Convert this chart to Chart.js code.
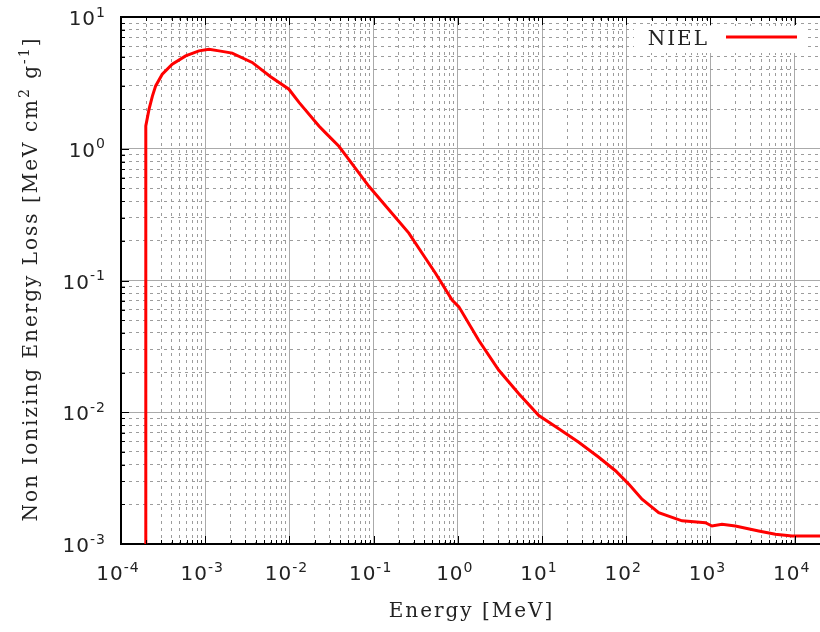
<!DOCTYPE html>
<html>
<head>
<meta charset="utf-8">
<script src="https://cdn.jsdelivr.net/npm/chart.js@4/dist/chart.umd.min.js"></script>
<style>
  html, body { margin: 0; padding: 0; background: #fff; overflow: hidden; }
  #wrap { width: 820px; height: 632px; position: relative; }
</style>
</head>
<body>
<div id="wrap"><canvas id="niel-chart"></canvas></div>
<script>
// NIEL curve: energy in MeV, loss in MeV cm^2 g^-1
const energy = [1.97e-4, 1.97e-4, 2.15e-4, 2.36e-4, 2.58e-4, 3.09e-4, 4.06e-4, 5.86e-4, 8.43e-4, 1.11e-3,
    1.46e-3, 2.09e-3, 3.61e-3, 5.98e-3, 9.86e-3, 1.30e-2, 2.24e-2, 2.69e-2, 3.87e-2, 5.09e-2,
    8.79e-2, 0.152, 0.262, 0.377, 0.543, 0.855, 1.03, 1.77, 3.07, 5.30,
    9.16, 15.8, 27.3, 47.2, 74.5, 107, 154, 243, 460, 871,
    1043, 1371, 1977, 3740, 5900, 9290, 20000];
const niel = [1e-3, 1.49, 1.99, 2.51, 3.0, 3.68, 4.39, 5.07, 5.53, 5.70,
    5.53, 5.32, 4.52, 3.52, 2.83, 2.25, 1.49, 1.32, 1.045, 0.828,
    0.519, 0.344, 0.229, 0.161, 0.1135, 0.0710, 0.0631, 0.0352, 0.0208, 0.01384,
    0.00944, 0.00748, 0.00592, 0.00455, 0.0036, 0.00285, 0.00219, 0.00173, 0.0015, 0.00145,
    0.00137, 0.00141, 0.00137, 0.001256, 0.001186, 0.00115, 0.00115];

// axis decades (exponents) and the minor steps inside each decade
const xExponents = [-4, -3, -2, -1, 0, 1, 2, 3, 4];
const yExponents = [-3, -2, -1, 0, 1];
const minorSteps = [2, 3, 4, 5, 6, 7, 8, 9];
const xRange = [1e-4, 2e4];
const yRange = [1e-3, 1e1];

const seriesLabel = 'NIEL';
const xTitle = 'Energy [MeV]';
const yTitle = ['Non Ionizing Energy Loss [MeV cm', '2', ' g', '-1', ']'];

const textFont = '"DejaVu Serif", serif';
const numFont = '"DejaVu Sans", sans-serif';

function decadeTicks(exps, min, max) {
    const ticks = [];
    exps.forEach(e => {
        const base = Math.pow(10, e);
        ticks.push({ value: base, major: true });
        minorSteps.forEach(s => ticks.push({ value: s * base, major: false }));
    });
    return ticks.filter(t => t.value >= min * 0.999 && t.value <= max * 1.001);
}

function gridColor(ctx) {
    if (!ctx.tick) return '#aaa';
    return ctx.tick.major ? '#aaaaaa' : '#9c9c9c';
}
function gridDash(ctx) {
    if (!ctx.tick) return [];
    return ctx.tick.major ? [] : [3, 4];
}

// text with superscripts, parts alternate normal / raised
function drawParts(c, parts, x, y, size, align) {
    const widths = parts.map((p, i) => {
        c.font = (i % 2 ? size * 0.7 : size) + 'px ' + c.__fam;
        return c.measureText(p).width;
    });
    const total = widths.reduce((a, b) => a + b, 0);
    let cx = align === 'center' ? x - total / 2 : align === 'right' ? x - total : x;
    c.textAlign = 'left';
    c.textBaseline = 'alphabetic';
    parts.forEach((p, i) => {
        c.font = (i % 2 ? size * 0.7 : size) + 'px ' + c.__fam;
        c.fillText(p, cx, i % 2 ? y - size * 0.42 : y);
        cx += widths[i];
    });
}

const gnuplotFrame = {
    id: 'gnuplotFrame',
    beforeDatasetsDraw(chart) {
        // the key sits on an opaque patch over the grid
        const c = chart.ctx;
        c.save();
        c.fillStyle = '#fff';
        c.fillRect(634, 26, 174, 27);
        c.restore();
    },
    afterDraw(chart) {
        const c = chart.ctx;
        const area = chart.chartArea;
        const xs = chart.scales.x;
        const ys = chart.scales.y;
        c.save();

        // frame: top line plus inward tick marks
        c.strokeStyle = '#000';
        c.lineWidth = 2;
        c.beginPath();
        c.moveTo(area.left - 1, area.top);
        c.lineTo(area.right, area.top);
        c.stroke();
        c.lineWidth = 1;
        c.beginPath();
        xs.ticks.forEach(t => {
            const px = Math.round(xs.getPixelForValue(t.value)) + 0.5;
            const len = t.major ? 8 : 4;
            c.moveTo(px, area.bottom);
            c.lineTo(px, area.bottom - len);
            c.moveTo(px, area.top);
            c.lineTo(px, area.top + len);
        });
        ys.ticks.forEach(t => {
            const py = Math.round(ys.getPixelForValue(t.value)) + 0.5;
            const len = t.major ? 8 : 4;
            c.moveTo(area.left, py);
            c.lineTo(area.left + len, py);
        });
        c.stroke();

        // tick labels 10^n
        c.fillStyle = '#222';
        c.__fam = numFont;
        c.letterSpacing = '1px';
        xs.ticks.filter(t => t.major).forEach(t => {
            const e = Math.round(Math.log10(t.value));
            drawParts(c, ['10', String(e)], xs.getPixelForValue(t.value) - 3, 580, 20, 'center');
        });
        ys.ticks.filter(t => t.major).forEach(t => {
            const e = Math.round(Math.log10(t.value));
            drawParts(c, ['10', String(e)], 106, ys.getPixelForValue(t.value) + 8, 20, 'right');
        });

        // axis titles
        c.__fam = textFont;
        c.letterSpacing = '2px';
        drawParts(c, [xTitle], (area.left + area.right) / 2 + 1, 617, 20, 'center');
        c.save();
        c.translate(37, 279);
        c.rotate(-Math.PI / 2);
        drawParts(c, yTitle, 0, 0, 20, 'center');
        c.restore();

        // key
        const ds = chart.data.datasets[0];
        drawParts(c, [ds.label], 709, 45, 20, 'right');
        c.strokeStyle = ds.borderColor;
        c.lineWidth = 3;
        c.beginPath();
        c.moveTo(726, 37);
        c.lineTo(797, 37);
        c.stroke();
        c.restore();
    }
};

const chartCanvas = document.getElementById('niel-chart');
new Chart(chartCanvas, {
    type: 'line',
    data: {
        datasets: [{
            label: seriesLabel,
            data: energy.map((e, i) => ({ x: e, y: niel[i] })),
            borderColor: '#ff0000',
            borderWidth: 3,
            pointRadius: 0,
            tension: 0,
            fill: false
        }]
    },
    options: {
        responsive: true,
        maintainAspectRatio: false,
        animation: false,
        layout: { padding: { left: 121, top: 17, right: 0, bottom: 88 } },
        plugins: { legend: { display: false }, tooltip: { enabled: false } },
        scales: {
            x: {
                type: 'logarithmic',
                min: xRange[0],
                max: xRange[1],
                afterBuildTicks: s => { s.ticks = decadeTicks(xExponents, xRange[0], xRange[1]); },
                ticks: { display: false, autoSkip: false },
                grid: { color: gridColor, lineWidth: 1, drawTicks: false },
                border: { display: true, color: '#000', width: 2, dash: gridDash }
            },
            y: {
                type: 'logarithmic',
                min: yRange[0],
                max: yRange[1],
                afterBuildTicks: s => { s.ticks = decadeTicks(yExponents, yRange[0], yRange[1]); },
                ticks: { display: false, autoSkip: false },
                grid: { color: gridColor, lineWidth: 1, drawTicks: false },
                border: { display: true, color: '#000', width: 2, dash: gridDash }
            }
        }
    },
    plugins: [gnuplotFrame]
});
</script>
</body>
</html>
